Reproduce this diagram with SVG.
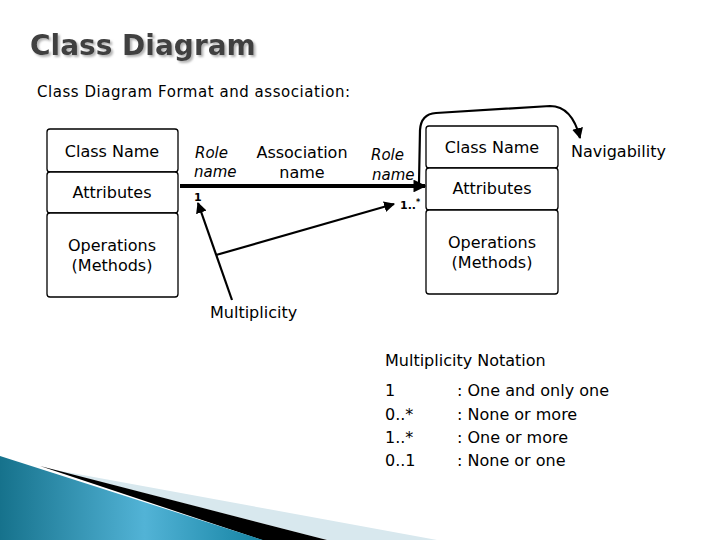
<svg xmlns="http://www.w3.org/2000/svg" width="720" height="540" viewBox="0 0 720 540">
<defs>
<style>
text{font-family:"DejaVu Sans","Verdana",sans-serif;fill:#000}
.t{font-size:16px}
.c{text-anchor:middle}
.i{font-style:italic;font-size:15px}
.b{font-weight:bold;font-size:11px}
.box{fill:#fff;stroke:#000;stroke-width:1.3}
.ln{fill:none;stroke:#000;stroke-width:2.2}
</style>
<filter id="shadow" x="-5%" y="-20%" width="115%" height="150%">
<feDropShadow dx="2" dy="2" stdDeviation="1" flood-color="#a0a0a0" flood-opacity="0.8"/>
</filter>
<marker id="ah" viewBox="0 0 10 10" refX="9" refY="5" markerWidth="5" markerHeight="5" orient="auto" markerUnits="strokeWidth">
<path d="M0,0 L10,5 L0,10 z" fill="#000"/>
</marker>
<marker id="ahb" viewBox="0 0 10 10" refX="9" refY="5" markerWidth="3.2" markerHeight="3.2" orient="auto" markerUnits="strokeWidth">
<path d="M0,0 L10,5 L0,10 z" fill="#000"/>
</marker>
<linearGradient id="blue" x1="0" y1="0" x2="1" y2="0">
<stop offset="0" stop-color="#16728c"/>
<stop offset="0.55" stop-color="#52b3d6"/>
<stop offset="1" stop-color="#1583a3"/>
</linearGradient>
</defs>
<rect width="720" height="540" fill="#fff"/>

<g id="title">
<text x="30" y="55" font-size="28" font-weight="bold" style="fill:#3f3f3f" filter="url(#shadow)">Class Diagram</text>
</g>
<text x="37" y="97" font-size="15" textLength="313">Class Diagram Format and association:</text>

<g id="class-left">
<rect class="box" x="47" y="129" width="131" height="43" rx="3"/>
<rect class="box" x="47" y="172" width="131" height="41" rx="3"/>
<rect class="box" x="47" y="213" width="131" height="84" rx="3"/>
<text class="t c" x="112" y="157">Class Name</text>
<text class="t c" x="112" y="198">Attributes</text>
<text class="t c" x="112" y="251">Operations</text>
<text class="t c" x="112" y="271">(Methods)</text>
</g>

<g id="class-right">
<rect class="box" x="426" y="126" width="132" height="42" rx="3"/>
<rect class="box" x="426" y="168" width="132" height="42" rx="3"/>
<rect class="box" x="426" y="210" width="132" height="84" rx="3"/>
<text class="t c" x="492" y="153">Class Name</text>
<text class="t c" x="492" y="194">Attributes</text>
<text class="t c" x="492" y="248">Operations</text>
<text class="t c" x="492" y="268">(Methods)</text>
</g>

<g id="connectors">
<line x1="180" y1="186" x2="425" y2="186" stroke="#000" stroke-width="4" marker-end="url(#ahb)"/>
<path class="ln" d="M419,183 L420,130 Q421,114 436,113 L550,106 Q572,106 580,138" marker-end="url(#ah)"/>
<line class="ln" x1="232" y1="300" x2="198" y2="203" marker-end="url(#ah)"/>
<line class="ln" x1="216" y1="255" x2="394" y2="204" marker-end="url(#ah)"/>
</g>

<g id="labels">
<text class="i" x="195" y="158">Role</text>
<text class="i" x="194" y="177">name</text>
<text class="t c" x="302" y="158">Association</text>
<text class="t c" x="302" y="178">name</text>
<text class="i" x="371" y="160">Role</text>
<text class="i" x="372" y="180">name</text>
<text class="b" x="194" y="201">1</text>
<text class="b" x="400" y="209">1..<tspan font-size="8" dy="-4">*</tspan></text>
<text class="t" x="571" y="157">Navigability</text>
<text class="t" x="210" y="318">Multiplicity</text>
</g>

<g id="notation">
<text class="t" x="385" y="366">Multiplicity Notation</text>
<text class="t" x="385" y="396">1</text>
<text class="t" x="457" y="396">: One and only one</text>
<text class="t" x="385" y="420">0..*</text>
<text class="t" x="457" y="420">: None or more</text>
<text class="t" x="385" y="443">1..*</text>
<text class="t" x="457" y="443">: One or more</text>
<text class="t" x="385" y="466">0..1</text>
<text class="t" x="457" y="466">: None or one</text>
</g>

<g id="decoration">
<polygon points="50,469 437,540 327,540" fill="#d8e8ee"/>
<polygon points="40,466 327,540 262,540" fill="#000"/>
<polygon points="0,456 263,540 0,540" fill="url(#blue)"/>
</g>
</svg>
